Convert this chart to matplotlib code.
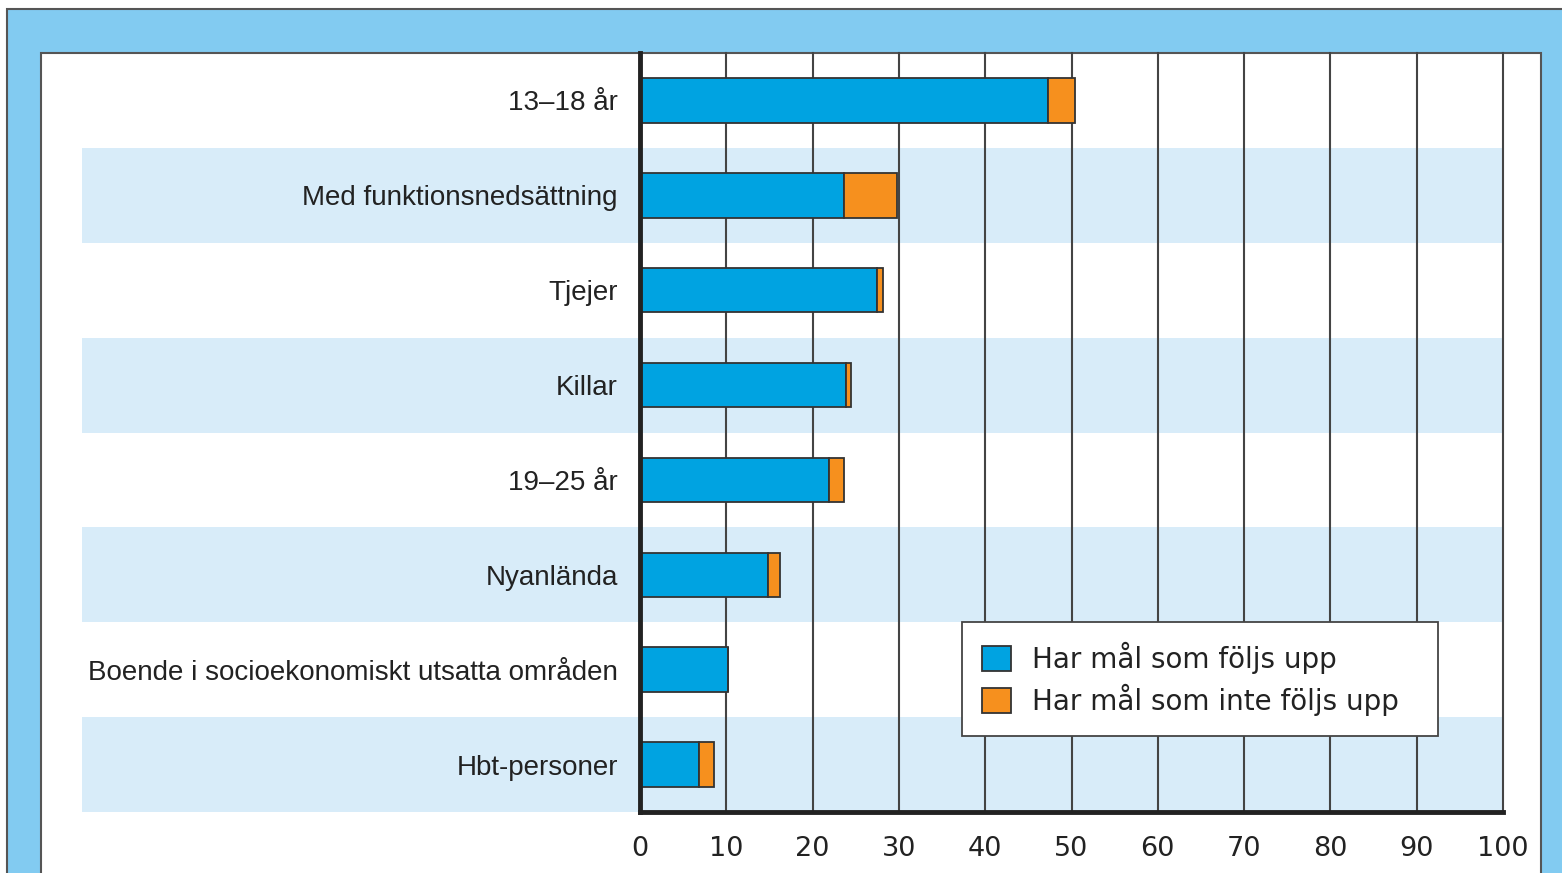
import numpy as np
import matplotlib
matplotlib.use("Agg")
import matplotlib.pyplot as plt
from matplotlib.patches import Rectangle, Patch
from matplotlib import transforms

# data (procent)
kategorier = ["13–18 år", "Med funktionsnedsättning", "Tjejer", "Killar",
              "19–25 år", "Nyanlända", "Boende i socioekonomiskt utsatta områden",
              "Hbt-personer"]
foljs_upp = [47.3, 23.6, 27.5, 23.9, 21.9, 14.8, 10.2, 6.8]
foljs_inte_upp = [3.1, 6.2, 0.6, 0.5, 1.7, 1.4, 0.0, 1.8]
xticks = [0, 10, 20, 30, 40, 50, 60, 70, 80, 90, 100]
legend_labels = ["Har mål som följs upp", "Har mål som inte följs upp"]

BLA = "#00A3E1"
ORANGE = "#F6901E"
BAND = "#D8ECF9"
RAM = "#82CBF1"
KANT = "#333333"

W, H = 1562, 873
fig = plt.figure(figsize=(W / 100, H / 100), dpi=100)
fig.patch.set_facecolor("white")

# ram runt diagrammet
fig.patches.append(Rectangle((7 / W, -0.1), 2, (H - 9) / H + 0.1,
                             transform=fig.transFigure, facecolor=RAM,
                             edgecolor="#555555", linewidth=1.5, zorder=-3))
fig.patches.append(Rectangle((41 / W, -0.1), (1541 - 41) / W, (H - 53) / H + 0.1,
                             transform=fig.transFigure, facecolor="white",
                             edgecolor="#555555", linewidth=1.5, zorder=-2))

ax = fig.add_axes([640 / W, 1 - 812 / H, 863 / W, 759 / H])
ax.set_facecolor("none")
y = np.arange(len(kategorier))

# band bakom varannan rad
trans = transforms.blended_transform_factory(fig.transFigure, ax.transData)
for i in y:
    if i % 2 == 1:
        ax.add_patch(Rectangle((82 / W, i - 0.5), (1503 - 82) / W, 1,
                               transform=trans, facecolor=BAND, edgecolor="none",
                               clip_on=False, zorder=0.1))

ax.barh(y, foljs_upp, height=0.47, color=BLA, edgecolor=KANT, linewidth=1.3, zorder=3)
ax.barh(y, foljs_inte_upp, left=foljs_upp, height=0.47, color=ORANGE,
        edgecolor=KANT, linewidth=1.3, zorder=3)

ax.set_xlim(0, 100)
ax.set_ylim(len(kategorier) - 0.5, -0.5)
ax.set_xticks(xticks)
ax.set_xticklabels([str(t) for t in xticks], fontfamily="DejaVu Sans",
                   fontsize=19.5, color="#222222")
ax.set_yticks(y)
ax.set_yticklabels(kategorier, fontfamily="Liberation Sans", fontsize=20,
                   color="#222222")
ax.tick_params(axis="both", length=0)
ax.tick_params(axis="y", pad=16)
ax.tick_params(axis="x", pad=17)

ax.set_axisbelow(True)
ax.grid(axis="x", color="#444444", linewidth=1.5)
ax.grid(axis="y", visible=False)
for line in ax.get_xgridlines():
    line.set_clip_on(False)
for s in ["top", "right"]:
    ax.spines[s].set_visible(False)
for s in ["left", "bottom"]:
    ax.spines[s].set_linewidth(3.5)
    ax.spines[s].set_color("#222222")
    ax.spines[s].set_zorder(4)

handles = [Patch(facecolor=BLA, edgecolor=KANT, linewidth=1.3),
           Patch(facecolor=ORANGE, edgecolor=KANT, linewidth=1.3)]
leg = fig.legend(handles, legend_labels, loc="upper left",
                 bbox_to_anchor=(962 / W, 1 - 735 / H, (1438 - 962) / W, 113 / H),
                 mode="expand", borderaxespad=0, fancybox=False,
                 prop={"family": "DejaVu Sans", "size": 20},
                 handlelength=1.05, handleheight=1.0, handletextpad=0.75,
                 labelspacing=0.35, borderpad=0.72, framealpha=1)
leg.get_frame().set_edgecolor("#444444")
leg.get_frame().set_linewidth(1.3)
for t in leg.get_texts():
    t.set_color("#222222")

fig.savefig("out.png", dpi=100)
